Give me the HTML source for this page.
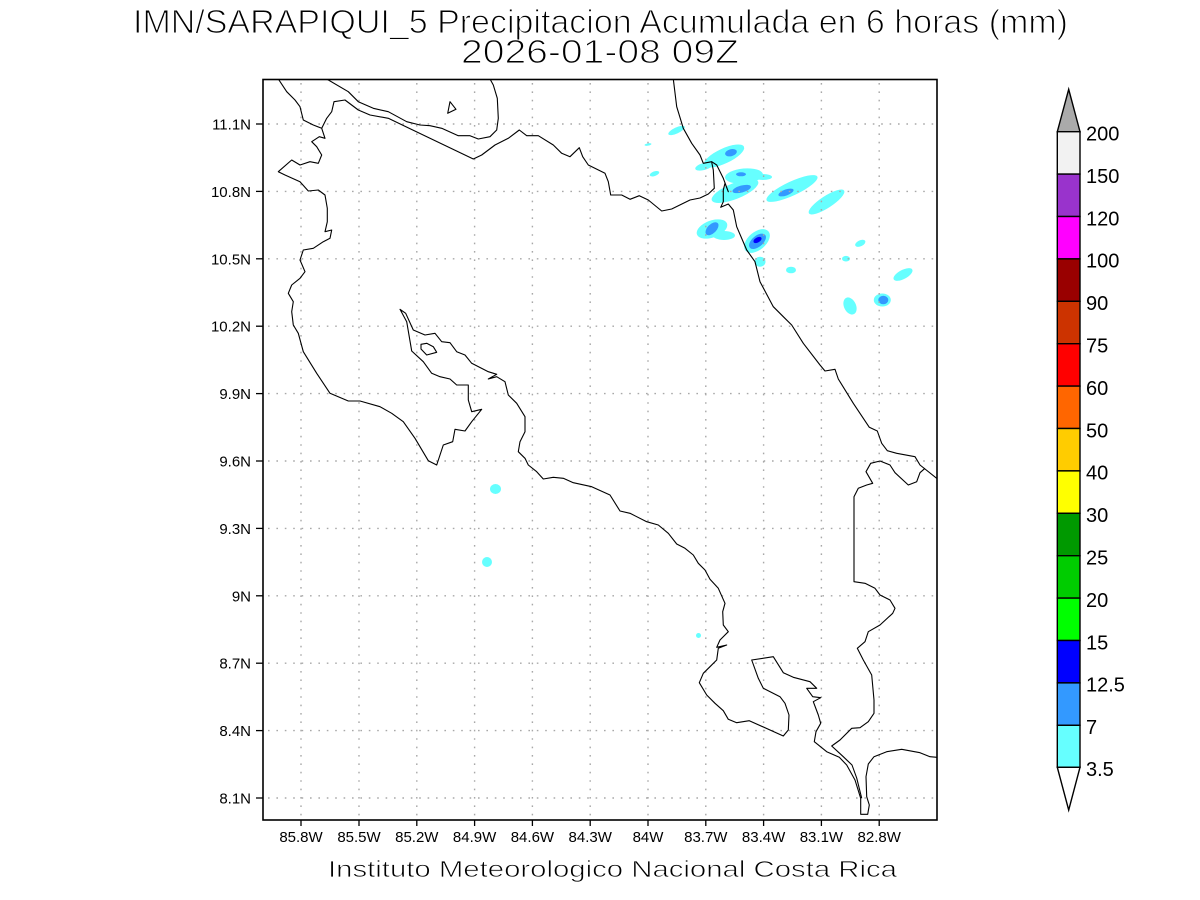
<!DOCTYPE html>
<html>
<head>
<meta charset="utf-8">
<style>
  html, body { margin: 0; padding: 0; background: #ffffff; }
  body { width: 1200px; height: 900px; overflow: hidden; }
  svg { display: block; }
  text { font-family: "Liberation Sans", "DejaVu Sans", sans-serif; fill: #000; }
</style>
</head>
<body>
<svg width="1200" height="900" viewBox="0 0 1200 900" xmlns="http://www.w3.org/2000/svg">
  <rect x="0" y="0" width="1200" height="900" fill="#ffffff"/>

  <!-- Title -->
  <g stroke="#ffffff" stroke-width="1.1">
    <text x="133" y="33" font-size="33" textLength="935" lengthAdjust="spacingAndGlyphs">IMN/SARAPIQUI_5 Precipitacion Acumulada en 6 horas (mm)</text>
    <text x="461" y="63" font-size="33" textLength="278" lengthAdjust="spacingAndGlyphs">2026-01-08 09Z</text>
  </g>

  <defs>
    <clipPath id="plotclip">
      <rect x="263" y="79" width="674" height="741"/>
    </clipPath>
  </defs>

  <!-- Precipitation fields -->
  <g clip-path="url(#plotclip)">
    <g fill="#66ffff">
      <ellipse cx="676.5" cy="130.5" rx="9" ry="3" transform="rotate(-25 676.5 130.5)"/>
      <ellipse cx="648" cy="144.5" rx="3.5" ry="1.2" transform="rotate(-10 648 144.5)"/>
      <ellipse cx="654.5" cy="173.7" rx="5" ry="2.3" transform="rotate(-20 654.5 173.7)"/>
      <ellipse cx="724" cy="156" rx="22" ry="7.5" transform="rotate(-25 724 156)"/>
      <ellipse cx="704" cy="166.5" rx="9" ry="3.5" transform="rotate(-15 704 166.5)"/>
      <ellipse cx="744" cy="176" rx="19" ry="7.5" transform="rotate(-5 744 176)"/>
      <ellipse cx="763" cy="177" rx="9" ry="3"/>
      <ellipse cx="735" cy="191" rx="25" ry="8" transform="rotate(-22 735 191)"/>
      <ellipse cx="792" cy="188.5" rx="28" ry="7" transform="rotate(-25 792 188.5)"/>
      <ellipse cx="826.5" cy="202" rx="21" ry="6" transform="rotate(-33 826.5 202)"/>
      <ellipse cx="712" cy="229" rx="16" ry="8.5" transform="rotate(-20 712 229)"/>
      <ellipse cx="724" cy="235.5" rx="11" ry="4.5"/>
      <ellipse cx="757" cy="241" rx="15" ry="9" transform="rotate(-40 757 241)"/>
      <ellipse cx="760" cy="261.7" rx="5.5" ry="5"/>
      <ellipse cx="791" cy="270" rx="5" ry="3.3"/>
      <ellipse cx="860.3" cy="243.3" rx="5.5" ry="3" transform="rotate(-25 860.3 243.3)"/>
      <ellipse cx="846" cy="258.7" rx="4" ry="2.8"/>
      <ellipse cx="903" cy="274.5" rx="10.5" ry="4.5" transform="rotate(-28 903 274.5)"/>
      <ellipse cx="850" cy="306" rx="6" ry="9" transform="rotate(-25 850 306)"/>
      <ellipse cx="882.3" cy="300" rx="8.5" ry="6.5"/>
      <ellipse cx="495.5" cy="489" rx="5.5" ry="5"/>
      <ellipse cx="487" cy="562" rx="5" ry="5"/>
      <ellipse cx="698.5" cy="635.5" rx="2.5" ry="2.5"/>
    </g>
    <g fill="#3399ff">
      <ellipse cx="731" cy="152.7" rx="6" ry="3.5" transform="rotate(-15 731 152.7)"/>
      <ellipse cx="741" cy="174.3" rx="5" ry="2"/>
      <ellipse cx="741.7" cy="189" rx="9.5" ry="3.5" transform="rotate(-15 741.7 189)"/>
      <ellipse cx="786" cy="192.5" rx="8" ry="3" transform="rotate(-20 786 192.5)"/>
      <ellipse cx="712" cy="228.7" rx="8" ry="4.5" transform="rotate(-45 712 228.7)"/>
      <ellipse cx="757.5" cy="241.3" rx="10" ry="5.5" transform="rotate(-40 757.5 241.3)"/>
      <ellipse cx="883.3" cy="300" rx="5" ry="4.3"/>
    </g>
    <g fill="#0000ff">
      <ellipse cx="757.5" cy="240" rx="4.5" ry="2.5" transform="rotate(-30 757.5 240)"/>
    </g>
  </g>

  <!-- Grid lines (dotted) -->
  <g stroke="#a8a8a8" stroke-width="1.4" stroke-dasharray="1.6 6.8" fill="none" clip-path="url(#plotclip)">
    <line x1="301" y1="83" x2="301" y2="820"/>
    <line x1="359" y1="83" x2="359" y2="820"/>
    <line x1="416.8" y1="83" x2="416.8" y2="820"/>
    <line x1="474.6" y1="83" x2="474.6" y2="820"/>
    <line x1="532.4" y1="83" x2="532.4" y2="820"/>
    <line x1="590.2" y1="83" x2="590.2" y2="820"/>
    <line x1="648" y1="83" x2="648" y2="820"/>
    <line x1="705.8" y1="83" x2="705.8" y2="820"/>
    <line x1="763.6" y1="83" x2="763.6" y2="820"/>
    <line x1="821.4" y1="83" x2="821.4" y2="820"/>
    <line x1="879.2" y1="83" x2="879.2" y2="820"/>

    <line x1="268" y1="124" x2="937" y2="124"/>
    <line x1="268" y1="191.4" x2="937" y2="191.4"/>
    <line x1="268" y1="258.8" x2="937" y2="258.8"/>
    <line x1="268" y1="326.2" x2="937" y2="326.2"/>
    <line x1="268" y1="393.6" x2="937" y2="393.6"/>
    <line x1="268" y1="461" x2="937" y2="461"/>
    <line x1="268" y1="528.4" x2="937" y2="528.4"/>
    <line x1="268" y1="595.8" x2="937" y2="595.8"/>
    <line x1="268" y1="663.2" x2="937" y2="663.2"/>
    <line x1="268" y1="730.6" x2="937" y2="730.6"/>
    <line x1="268" y1="798" x2="937" y2="798"/>
  </g>

  <!-- Coastlines / borders -->
  <g stroke="#000" stroke-width="1.1" fill="none" stroke-linejoin="round" clip-path="url(#plotclip)">
    <polyline points="278.3,79 286.7,91.7 295,100 300,106.7 303.3,120 313.3,125 321.7,128.3 325,138.3 319.3,136.7 311.7,141.7 316.7,146.7 321.7,155 318.3,163.3 310,161.7 300,165 291.7,160 278.3,171.7 285,175 300,181.7 308.3,191 318.3,190 325,195 327.3,208.3 327.3,221.7 325,231.7 331.7,230 330,238.3 323.3,241.7 313.3,248.3 303.3,250 300,260 305,271.7 300,278.3 291.7,285 288.3,293.3 293.3,301.7 291.7,311.7 293.3,325 298.3,333.3 303.3,351.7 316.7,373.3 330,393.3 348.3,401 360,401 380,406.7 391.7,413.3 403.3,421.7 415,438.3 428.3,460.7 436.7,465 443.3,445 452.7,441.7 455,429.3 465,431 471.7,421.7 481.7,409.3 471.7,411.7 468.3,400 468.3,385 456.7,385 450,379 440,376.7 431.7,373.3 423.3,361.7 411.7,351 406.7,321.7 400,309.3 405.7,313.3 413.3,330 425,335 435,333.3 441.7,341.7 450,342.7 456.7,351.7 465,355 471.7,363.3 488.3,371.7 496.7,374.3 488.3,379 496.7,376.7 505,381.7 508.3,395 516.7,403.3 525,416.7 525,431.7 520,441.7 518.3,451.7 525,458.3 528.3,465 536.7,471.7 543.3,479 553.3,477.3 563.3,478.3 573.3,482.7 591.7,486.7 610,495 620,511 630,513.3 646.7,521.7 658.3,525 668.3,533.3 676.7,544 685,548.3 693.3,555 698.3,563.3 705,570 710,579.3 718.3,588.3 725,603.3 722.7,611.7 723.3,625 728.3,631.7 720,640 716.7,647.3 726.7,645 718.3,648.3 716.7,660 710,666.7 703.3,673.3 699.3,682.7 706.7,695 715,703.3 723.3,710.7 728.3,719.3 736.7,722.7 749.3,720.7 783.3,736 788.3,730 789,715 785,703.3 780,696.7 763.3,688.3 758.3,678.3 751.7,660 773.3,656.7 783.3,672.7 793.3,677.3 810,681.7 816.7,688.3 806.7,688.3 812.7,696.7 820.7,697.7 813.3,701.7 818.3,715 820.7,723.3 816,731.7 814.3,741.7 826.7,751.7 839.3,757.3 846.7,765 855,780 860.7,798.3 860.7,814.3 867.7,814.3 869.3,805 866.7,796.7 866,776.7 868.3,764 874,756.7 886.7,751.7 901.7,749.3 920,752.7 930,756.7 937,757.3"/>
    <polyline points="861.7,798.3 856.7,778 852,765 843.3,756.7 831.7,746 840,740 851.7,728.3 860,727.7 868.3,721.7 874,713.3 874,700 871.7,675 863.3,660 857.3,648.3 865,641.7 868.3,631.7 880,625 892.7,613.3 895,608.3 890,600 880,595 875,588.3 865,583.3 854,581.7 854,496.7 858.3,488.3 866.7,485 872.7,483.3 866,471.7 870.7,463.3 880,461 890,465 895,472.7 908.3,485 916.7,481.7 920,472.7 925,468.3"/>
    <polyline points="673.3,79 676.7,106.7 683.3,128.3 691.7,143.3 700,155 703.3,163.3 711.7,161.7 716.7,165 723.3,178.3 728.3,191.7 725,183.3 723.3,190 723.3,201.7 720.7,207.3 728.3,204 733.3,210 736.7,226.7 746.7,250 755,261.7 760,281.7 773.3,306.7 783.3,316.7 791.7,325 803.3,343.3 820,365 825,371 835,369.3 838.3,379 853.3,403.3 869.3,427.3 877.3,431 881.7,443.3 887.3,450.7 896.7,453.3 915,456.7 920,465 936.7,478.3"/>
    <polyline points="711.7,162.3 713.3,170 714.3,188.3 708.3,194 700,198 690,200 671.7,209 661.7,211 648.3,200 639.3,195.7 630,199.3 621.7,195 610.7,195 608.3,181.7 605,173.3 588.3,165 582.7,156.7 579.3,147.7 570,156.7 561.7,153.3 553.3,145 538.3,135.7 526.7,135.7 519.3,130 508.3,138.3 495,145 481.7,155 473.3,159 388.3,118.3 370,115 358.3,110 345,100 334,101.7 331.7,111.7 326.7,118.3 321.7,128.3"/>
    <polyline points="326.7,79 348.3,91.7 358.3,101.7 373.3,108.3 388.3,111.7 406.7,121.7 420,125 430,125.7 441.7,128.3 458.3,135.7 470,135.7 478.3,139 490,136.7 496.7,130 498.3,118.3 497.3,98.3 493.3,85 490,79"/>
    <polygon points="450,101.7 456,109.3 447.7,113.3"/>
    <polygon points="421,344.3 426.7,343.3 433.3,346.7 436.7,352.3 426.7,355 421,349"/>
  </g>

  <!-- Frame -->
  <rect x="263" y="79.5" width="674" height="740.5" fill="none" stroke="#000" stroke-width="1.6"/>

  <!-- Ticks -->
  <g stroke="#000" stroke-width="1.3">
    <line x1="301" y1="820" x2="301" y2="826"/>
    <line x1="359" y1="820" x2="359" y2="826"/>
    <line x1="416.8" y1="820" x2="416.8" y2="826"/>
    <line x1="474.6" y1="820" x2="474.6" y2="826"/>
    <line x1="532.4" y1="820" x2="532.4" y2="826"/>
    <line x1="590.2" y1="820" x2="590.2" y2="826"/>
    <line x1="648" y1="820" x2="648" y2="826"/>
    <line x1="705.8" y1="820" x2="705.8" y2="826"/>
    <line x1="763.6" y1="820" x2="763.6" y2="826"/>
    <line x1="821.4" y1="820" x2="821.4" y2="826"/>
    <line x1="879.2" y1="820" x2="879.2" y2="826"/>

    <line x1="256" y1="124" x2="263" y2="124"/>
    <line x1="256" y1="191.4" x2="263" y2="191.4"/>
    <line x1="256" y1="258.8" x2="263" y2="258.8"/>
    <line x1="256" y1="326.2" x2="263" y2="326.2"/>
    <line x1="256" y1="393.6" x2="263" y2="393.6"/>
    <line x1="256" y1="461" x2="263" y2="461"/>
    <line x1="256" y1="528.4" x2="263" y2="528.4"/>
    <line x1="256" y1="595.8" x2="263" y2="595.8"/>
    <line x1="256" y1="663.2" x2="263" y2="663.2"/>
    <line x1="256" y1="730.6" x2="263" y2="730.6"/>
    <line x1="256" y1="798" x2="263" y2="798"/>
  </g>

  <!-- X tick labels -->
  <g font-size="15" text-anchor="middle">
    <text x="301" y="842">85.8W</text>
    <text x="359" y="842">85.5W</text>
    <text x="416.8" y="842">85.2W</text>
    <text x="474.6" y="842">84.9W</text>
    <text x="532.4" y="842">84.6W</text>
    <text x="590.2" y="842">84.3W</text>
    <text x="648" y="842">84W</text>
    <text x="705.8" y="842">83.7W</text>
    <text x="763.6" y="842">83.4W</text>
    <text x="821.4" y="842">83.1W</text>
    <text x="879.2" y="842">82.8W</text>
  </g>

  <!-- Y tick labels -->
  <g font-size="15" text-anchor="end">
    <text x="251" y="129.5">11.1N</text>
    <text x="251" y="196.9">10.8N</text>
    <text x="251" y="264.3">10.5N</text>
    <text x="251" y="331.7">10.2N</text>
    <text x="251" y="399.1">9.9N</text>
    <text x="251" y="466.5">9.6N</text>
    <text x="251" y="533.9">9.3N</text>
    <text x="251" y="601.3">9N</text>
    <text x="251" y="668.7">8.7N</text>
    <text x="251" y="736.1">8.4N</text>
    <text x="251" y="803.5">8.1N</text>
  </g>

  <!-- Bottom caption -->
  <text x="328" y="877" font-size="23" fill="#222" stroke="#ffffff" stroke-width="0.7" textLength="569" lengthAdjust="spacingAndGlyphs">Instituto Meteorologico Nacional Costa Rica</text>

  <!-- Colorbar -->
  <g stroke="#000" stroke-width="1.4">
    <polygon points="1057.3,131.7 1080,131.7 1068.7,89.3" fill="#aaaaaa"/>
    <rect x="1057.3" y="131.7" width="22.7" height="42.4" fill="#f2f2f2"/>
    <rect x="1057.3" y="174.1" width="22.7" height="42.4" fill="#9933cc"/>
    <rect x="1057.3" y="216.5" width="22.7" height="42.4" fill="#ff00ff"/>
    <rect x="1057.3" y="258.9" width="22.7" height="42.4" fill="#990000"/>
    <rect x="1057.3" y="301.3" width="22.7" height="42.4" fill="#cc3300"/>
    <rect x="1057.3" y="343.7" width="22.7" height="42.4" fill="#ff0000"/>
    <rect x="1057.3" y="386.1" width="22.7" height="42.4" fill="#ff6600"/>
    <rect x="1057.3" y="428.5" width="22.7" height="42.4" fill="#ffcc00"/>
    <rect x="1057.3" y="470.9" width="22.7" height="42.4" fill="#ffff00"/>
    <rect x="1057.3" y="513.3" width="22.7" height="42.4" fill="#009900"/>
    <rect x="1057.3" y="555.7" width="22.7" height="42.4" fill="#00cc00"/>
    <rect x="1057.3" y="598.1" width="22.7" height="42.4" fill="#00ff00"/>
    <rect x="1057.3" y="640.5" width="22.7" height="42.4" fill="#0000ff"/>
    <rect x="1057.3" y="682.9" width="22.7" height="42.4" fill="#3399ff"/>
    <rect x="1057.3" y="725.3" width="22.7" height="42.0" fill="#66ffff"/>
    <polygon points="1057.3,767.3 1080,767.3 1068.7,810" fill="#ffffff"/>
  </g>
  <g font-size="20">
    <text x="1086" y="140.5">200</text>
    <text x="1086" y="182.9">150</text>
    <text x="1086" y="225.3">120</text>
    <text x="1086" y="267.7">100</text>
    <text x="1086" y="310.1">90</text>
    <text x="1086" y="352.5">75</text>
    <text x="1086" y="394.9">60</text>
    <text x="1086" y="437.3">50</text>
    <text x="1086" y="479.7">40</text>
    <text x="1086" y="522.1">30</text>
    <text x="1086" y="564.5">25</text>
    <text x="1086" y="606.9">20</text>
    <text x="1086" y="649.3">15</text>
    <text x="1086" y="691.7">12.5</text>
    <text x="1086" y="734.1">7</text>
    <text x="1086" y="776.1">3.5</text>
  </g>
</svg>
</body>
</html>
